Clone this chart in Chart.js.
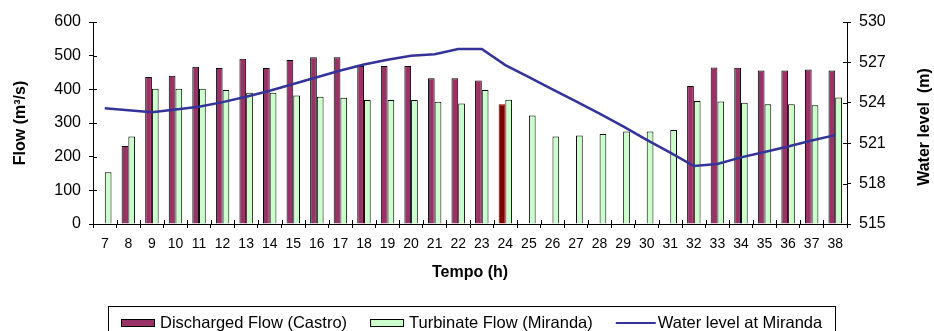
<!DOCTYPE html>
<html>
<head>
<meta charset="utf-8">
<title>Flow and water level</title>
<script src="https://cdn.jsdelivr.net/npm/chart.js@4.4.1/dist/chart.umd.min.js"></script>
<style>
    body { margin: 0; background: #ffffff; }
    #myChart { display: block; }
</style>
</head>
<body>
<canvas id="myChart" width="934" height="331"></canvas>
<script>
// Hours on the x axis
const hours = ['7', '8', '9', '10', '11', '12', '13', '14', '15', '16', '17', '18', '19', '20', '21', '22',
    '23', '24', '25', '26', '27', '28', '29', '30', '31', '32', '33', '34', '35', '36', '37', '38'];

// Discharged flow at Castro (m3/s), null where no bar
const dischargedCastro = [null, 232, 437, 440, 467, 463, 491, 463, 487, 495, 495, 469, 469, 469, 433, 433,
    426, 356, null, null, null, null, null, null, null, 410, 465, 464, 456, 456, 459, 456];

// Turbinate flow at Miranda (m3/s)
const turbinateMiranda = [154, 260, 402, 402, 402, 398, 390, 390, 382, 378, 375, 368, 368, 368, 363, 358,
    398, 369, 322, 260, 263, 267, 275, 275, 279, 365, 364, 360, 356, 356, 353, 376];

// Water level at Miranda (m)
const waterLevel = [523.6, 523.45, 523.3, 523.5, 523.7, 524.05, 524.45, 524.9, 525.4, 525.9, 526.4, 526.85,
    527.2, 527.5, 527.6, 528.0, 528.0, 526.8, 525.9, 525.0, 524.1, 523.2, 522.25, 521.25, 520.3, 519.3,
    519.45, 519.95, 520.35, 520.75, 521.2, 521.6];

// Hour whose Castro bar is drawn darker
const highlightHour = '24';

const castroColor = '#993366';
const castroHighlight = '#800000';
const mirandaColor = '#CCFFCC';
const levelColor = '#333399';
const fontFamily = '"Liberation Sans", Arial, sans-serif';

// Short tick marks on the inner side of the axes (Excel "cross" ticks)
const innerTicks = {
    id: 'innerTicks',
    afterDraw: function (chart) {
        const ctx = chart.ctx;
        const area = chart.chartArea;
        const x = chart.scales.x;
        const y = chart.scales.y;
        const y1 = chart.scales.y1;
        ctx.save();
        ctx.strokeStyle = '#000000';
        ctx.lineWidth = 1;
        ctx.beginPath();
        y.ticks.forEach(function (t) {
            const py = Math.round(y.getPixelForValue(t.value)) + 0.5;
            ctx.moveTo(area.left, py);
            ctx.lineTo(area.left + 4, py);
        });
        y1.ticks.forEach(function (t) {
            const py = Math.round(y1.getPixelForValue(t.value)) + 0.5;
            ctx.moveTo(area.right - 4, py);
            ctx.lineTo(area.right, py);
        });
        const step = x.getPixelForValue(1) - x.getPixelForValue(0);
        for (let i = 0; i <= hours.length; i++) {
            const px = Math.round(x.getPixelForValue(i) - step / 2) + 0.5;
            ctx.moveTo(px, area.bottom);
            ctx.lineTo(px, area.bottom - 4);
        }
        ctx.stroke();
        ctx.restore();
    }
};

// Right axis title, read from bottom to top like the left one
const rightTitle = {
    id: 'rightTitle',
    afterDraw: function (chart) {
        const ctx = chart.ctx;
        const area = chart.chartArea;
        ctx.save();
        ctx.translate(925, (area.top + area.bottom) / 2 + 4);
        ctx.rotate(-Math.PI / 2);
        ctx.font = 'bold 16px ' + fontFamily;
        ctx.fillStyle = '#000000';
        ctx.textAlign = 'center';
        ctx.textBaseline = 'middle';
        ctx.fillText('Water level  (m)', 0, 0);
        ctx.restore();
    }
};

// Boxed legend under the chart
const boxLegend = {
    id: 'boxLegend',
    afterDraw: function (chart) {
        const ctx = chart.ctx;
        const swatches = [castroColor, mirandaColor, null];
        const baseY = 327.5;
        const midY = 323;
        let px = 121;
        ctx.save();
        ctx.strokeStyle = '#000000';
        ctx.lineWidth = 1;
        ctx.strokeRect(108.5, 306.5, 727, 40);
        ctx.font = '16.5px ' + fontFamily;
        ctx.textBaseline = 'alphabetic';
        chart.data.datasets.forEach(function (ds, i) {
            if (swatches[i]) {
                ctx.fillStyle = swatches[i];
                ctx.fillRect(px, midY - 4, 34, 8);
                ctx.strokeStyle = '#000000';
                ctx.lineWidth = 1;
                ctx.strokeRect(px + 0.5, midY - 3.5, 33, 7);
                px += 39;
            } else {
                ctx.strokeStyle = ds.borderColor;
                ctx.lineWidth = 2;
                ctx.beginPath();
                ctx.moveTo(px, midY);
                ctx.lineTo(px + 40, midY);
                ctx.stroke();
                px += 42;
            }
            ctx.fillStyle = '#000000';
            ctx.fillText(ds.label, px, baseY);
            px += ctx.measureText(ds.label).width + 23;
        });
        ctx.restore();
    }
};

const ctx = document.getElementById('myChart').getContext('2d');

new Chart(ctx, {
    type: 'bar',
    data: {
        labels: hours,
        datasets: [{
            label: 'Discharged Flow (Castro)',
            data: dischargedCastro,
            yAxisID: 'y',
            order: 1,
            backgroundColor: function (c) {
                return hours[c.dataIndex] === highlightHour ? castroHighlight : castroColor;
            },
            borderColor: function (c) {
                return hours[c.dataIndex] === highlightHour ? castroHighlight : '#000000';
            },
            borderWidth: 1,
            barPercentage: 1,
            categoryPercentage: 0.57
        }, {
            label: 'Turbinate Flow (Miranda)',
            data: turbinateMiranda,
            yAxisID: 'y',
            order: 1,
            backgroundColor: mirandaColor,
            borderColor: '#000000',
            borderWidth: 1,
            barPercentage: 1,
            categoryPercentage: 0.57
        }, {
            type: 'line',
            label: 'Water level at Miranda',
            data: waterLevel,
            yAxisID: 'y1',
            order: 0,
            borderColor: levelColor,
            backgroundColor: levelColor,
            borderWidth: 2.5,
            pointRadius: 0,
            tension: 0,
            fill: false
        }]
    },
    options: {
        responsive: false,
        animation: false,
        devicePixelRatio: 1,
        layout: { padding: { top: 22, left: 0, right: 0, bottom: 0 } },
        plugins: {
            legend: { display: false },
            tooltip: { enabled: false }
        },
        scales: {
            x: {
                offset: true,
                grid: { offset: true, drawOnChartArea: false, tickLength: 4, color: '#000000' },
                border: { color: '#000000', width: 1 },
                ticks: {
                    color: '#000000',
                    font: { family: fontFamily, size: 14 },
                    padding: 8,
                    maxRotation: 0,
                    autoSkip: false
                },
                title: {
                    display: true,
                    text: 'Tempo (h)',
                    color: '#000000',
                    font: { family: fontFamily, size: 16, weight: 'bold' },
                    padding: { top: 0, bottom: 49 }
                },
                afterFit: function (scale) { scale.height = 107; }
            },
            y: {
                position: 'left',
                min: 0,
                max: 600,
                grid: { drawOnChartArea: false, tickLength: 4, color: '#000000' },
                border: { color: '#000000', width: 1 },
                ticks: {
                    stepSize: 100,
                    color: '#000000',
                    font: { family: fontFamily, size: 16 },
                    padding: 8
                },
                title: {
                    display: true,
                    text: 'Flow (m³/s)',
                    color: '#000000',
                    font: { family: fontFamily, size: 16, weight: 'bold' },
                    padding: { top: 11, bottom: 0 }
                },
                afterFit: function (scale) { scale.width = 93; }
            },
            y1: {
                position: 'right',
                min: 515,
                max: 530,
                grid: { drawOnChartArea: false, tickLength: 4, color: '#000000' },
                border: { color: '#000000', width: 1 },
                ticks: {
                    stepSize: 3,
                    color: '#000000',
                    font: { family: fontFamily, size: 16 },
                    padding: 8
                },
                afterFit: function (scale) { scale.width = 87; }
            }
        }
    },
    plugins: [innerTicks, rightTitle, boxLegend]
});
</script>
</body>
</html>
